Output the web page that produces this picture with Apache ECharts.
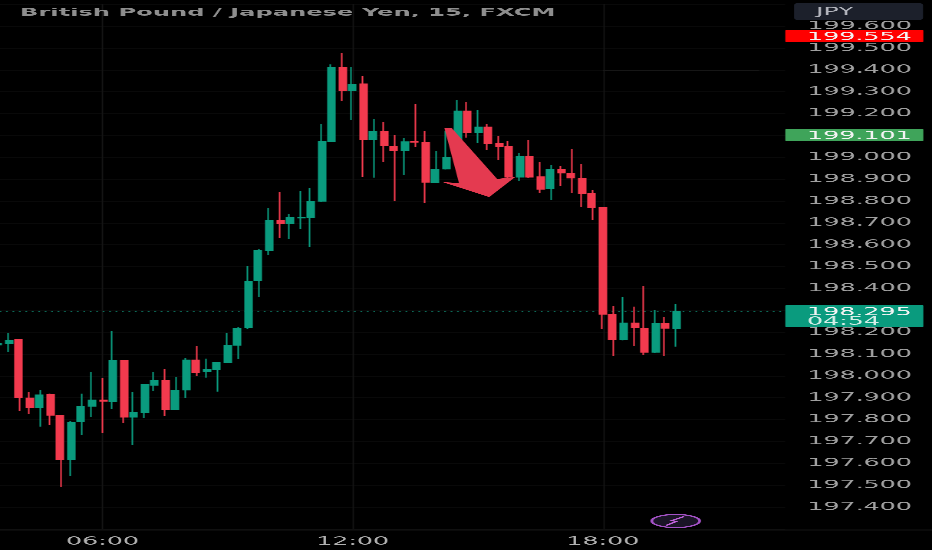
<!DOCTYPE html>
<html><head><meta charset="utf-8">
<style>html,body{margin:0;padding:0;background:#000;overflow:hidden;width:932px;height:550px}
#c{position:absolute;left:-23.0123px;top:0;width:415px;height:550px;transform:scaleX(2.30123);transform-origin:0 0}</style>
<script src="https://cdn.jsdelivr.net/npm/echarts@6/dist/echarts.min.js"></script>
</head><body><div id="c"></div>
<script>
const categories=['03:30','03:45','04:00','04:15','04:30','04:45','05:00','05:15','05:30','05:45','06:00','06:15','06:30','06:45','07:00','07:15','07:30','07:45','08:00','08:15','08:30','08:45','09:00','09:15','09:30','09:45','10:00','10:15','10:30','10:45','11:00','11:15','11:30','11:45','12:00','12:15','12:30','12:45','13:00','13:15','13:30','13:45','14:00','14:15','14:30','14:45','15:00','15:15','15:30','15:45','16:00','16:15','16:30','16:45','17:00','17:15','17:30','17:45','18:00','18:15','18:30','18:45','19:00','19:15','19:30','19:45','20:00','20:15','20:30','20:45','21:00','21:15','21:30','21:45','22:00','22:15'];
const timeTicks=['06:00','12:00','18:00'];
const opens=[198.141,198.149,198.166,197.899,197.853,197.914,197.820,197.615,197.789,197.861,197.890,197.882,198.070,197.811,197.833,197.957,197.978,197.847,197.935,198.073,198.018,198.030,198.062,198.140,198.219,198.434,198.573,198.713,198.698,198.722,198.724,198.799,199.073,199.413,199.305,199.336,199.082,199.120,199.051,199.029,199.073,199.067,198.885,198.946,199.000,199.212,199.114,199.139,199.064,199.050,198.909,199.005,198.911,198.855,198.946,198.927,198.905,198.835,198.771,198.282,198.164,198.242,198.219,198.108,198.241,198.216];
const closes=[198.150,198.164,197.899,197.853,197.913,197.820,197.615,197.789,197.861,197.890,197.884,198.070,197.811,197.833,197.960,197.978,197.847,197.935,198.073,198.016,198.030,198.062,198.140,198.219,198.434,198.573,198.713,198.695,198.724,198.726,198.799,199.073,199.413,199.305,199.335,199.082,199.120,199.052,199.030,199.071,199.069,198.886,198.946,199.000,199.212,199.114,199.139,199.062,199.048,198.909,199.003,198.909,198.854,198.946,198.928,198.905,198.835,198.769,198.282,198.164,198.242,198.219,198.108,198.241,198.218,198.295];
const lows=[198.132,198.109,197.839,197.824,197.768,197.775,197.493,197.543,197.730,197.811,197.740,197.850,197.786,197.684,197.806,197.932,197.817,197.844,197.900,198.001,197.992,197.928,198.058,198.077,198.215,198.361,198.553,198.632,198.625,198.672,198.588,198.797,199.071,199.258,199.172,198.910,198.907,198.977,198.800,198.919,199.048,198.792,198.883,198.944,198.998,199.090,199.064,199.032,198.988,198.896,198.893,198.904,198.838,198.805,198.869,198.835,198.771,198.713,198.215,198.092,198.162,198.138,198.096,198.106,198.092,198.134];
const highs=[198.155,198.196,198.170,197.925,197.935,197.919,197.822,197.792,197.919,198.019,197.989,198.204,198.072,197.925,197.963,198.016,198.032,197.994,198.082,198.135,198.079,198.065,198.195,198.222,198.504,198.582,198.769,198.840,198.739,198.846,198.861,199.151,199.425,199.476,199.414,199.372,199.174,199.160,199.103,199.087,199.244,199.119,199.029,199.122,199.262,199.252,199.216,199.152,199.099,199.075,199.018,199.079,198.979,198.966,198.960,199.038,198.969,198.849,198.774,198.318,198.362,198.317,198.411,198.301,198.271,198.328];
const priceTicks=['199.600','199.500','199.400','199.300','199.200','199.000','198.900','198.800','198.700','198.600','198.500','198.400','198.200','198.100','198.000','197.900','197.800','197.700','197.600','197.500','197.400'];
const priceTags=[[199.554,'199.554','#ff0000'],[199.101,'199.101','#3fa45a'],[198.295,'198.295','#0a9b7e']];
const countdown='04:54';
const lastPrice=198.295;
const arrowIdx=[42.8,43.5,47.86,49.6,47.1,42.6,44.2];
const arrowPrice=[199.134,199.134,198.901,198.910,198.818,198.887,198.882];
const symbolTitle='British Pound / Japanese Yen, 15, FXCM';
const currency='JPY';

const FONT='"DejaVu Sans"';
const S=2.30123, OFF=10;
const X=px=>px/S+OFF;
const chart=echarts.init(document.getElementById('c'),null,{width:415,height:550,devicePixelRatio:3});
const candle=opens.map((o,i)=>[o,closes[i],lows[i],highs[i]]);
chart.setOption({
  animation:false,backgroundColor:'#000',
  grid:{left:X(-6.91),width:344.2,top:4.29,height:524.57,containLabel:false},
  xAxis:{type:'category',data:categories,boundaryGap:true,offset:1,
    axisLine:{show:false},axisTick:{show:false},splitLine:{show:false},
    axisLabel:{interval:(i,v)=>timeTicks.includes(v),color:'#b0b0b0',fontFamily:FONT,fontSize:11,margin:6.5,hideOverlap:false}},
  yAxis:{type:'value',position:'right',min:197.3,max:199.7,interval:0.1,scale:true,
    axisLine:{show:false},axisTick:{show:false},
    splitLine:{show:true,lineStyle:{color:'#090909',width:0.5}},
    axisLabel:{margin:9.6,color:'#a0a0a0',fontFamily:FONT,fontSize:11,padding:[7,0,0,0],showMinLabel:true,showMaxLabel:true,
      formatter:v=>{const s=v.toFixed(3);return priceTicks.includes(s)?s:'';}}},
  title:{text:symbolTitle,left:X(20),top:7.5,padding:0,textStyle:{color:'#8e8e8e',fontFamily:FONT,fontSize:10.5,fontWeight:'bold'}},
  series:[
    {type:'candlestick',data:candle,barWidth:3.5,z:3,
      itemStyle:{color:'#0a9b7e',color0:'#f23a4e',borderColor:'#0a9b7e',borderColor0:'#f23a4e',borderWidth:0.7},
      markLine:{silent:true,symbol:'none',z:1,precision:3,label:{show:false},animation:false,
        data:[
          {xAxis:'06:00',lineStyle:{color:'#151515',width:0.6,type:'solid'}},
          {xAxis:'12:00',lineStyle:{color:'#151515',width:0.6,type:'solid'}},
          {xAxis:'18:00',lineStyle:{color:'#151515',width:0.6,type:'solid'}},
          {yAxis:lastPrice,lineStyle:{color:'#0d6b58',width:0.6,type:[0.8,2]}},
          [{coord:['18:00',199.4],lineStyle:{color:'#161616',width:0.6,type:'solid'}},{coord:['21:45',199.4]}]
        ]}},
    {type:'custom',coordinateSystem:'cartesian2d',z:4,silent:true,data:[[0,0]],
      renderItem:(p,api)=>{
        const band=api.size([1,0])[0];
        const pts=arrowIdx.map((ix,k)=>{const f=Math.floor(ix);const c=api.coord([f,arrowPrice[k]]);return [c[0]+(ix-f)*band,c[1]];});
        return {type:'polygon',shape:{points:pts},style:{fill:'#e43a50'}};
      }},
    {type:'custom',coordinateSystem:'cartesian2d',z:6,silent:true,clip:false,
      data:priceTags.map((t,i)=>[0,t[0],i]),
      renderItem:(p,api)=>{
        const t=priceTags[api.value(2)];
        const y=api.coord([0,t[0]])[1];
        const x0=X(785.3),x1=X(923.3),isLast=t[0]===lastPrice;
        const top=y-6.4,h=isLast?22.2:12.4;
        const kids=[{type:'rect',shape:{x:x0,y:top,width:x1-x0,height:h,r:1},style:{fill:t[2]}},
          {type:'text',style:{text:t[1],x:X(807),y:y+1,font:'11px '+FONT,fill:'#f4f4f4',textVerticalAlign:'middle',textAlign:'left'}}];
        if(isLast)kids.push({type:'text',style:{text:countdown,x:X(807),y:y+10.5,font:'11px '+FONT,fill:'#d6efe9',textVerticalAlign:'middle',textAlign:'left'}});
        return {type:'group',children:kids};
      }}
  ],
  graphic:[
    {type:'line',z:1,silent:true,shape:{x1:0,y1:530,x2:415,y2:530},style:{stroke:'#2a2a2a',lineWidth:0.9}},
    {type:'rect',z:7,silent:true,shape:{x:X(794),y:3,width:129/S,height:17,r:2},style:{fill:'#1c202b'}},
    {type:'text',z:8,silent:true,style:{text:currency,x:X(816),y:12,font:'11px '+FONT,fill:'#b4b6be',textVerticalAlign:'middle'}},
    {type:'ellipse',z:7,silent:true,shape:{cx:X(675.7),cy:521,rx:24/S,ry:6.6},style:{fill:'#1a1426',stroke:'#a452c6',lineWidth:1.2}},
    {type:'polyline',z:8,silent:true,shape:{points:[[X(666),525.5],[X(676),521.5],[X(672),520.5],[X(684),516.5]]},style:{stroke:'#c262dc',lineWidth:1.1,fill:'none'}}
  ]
});
</script></body></html>
